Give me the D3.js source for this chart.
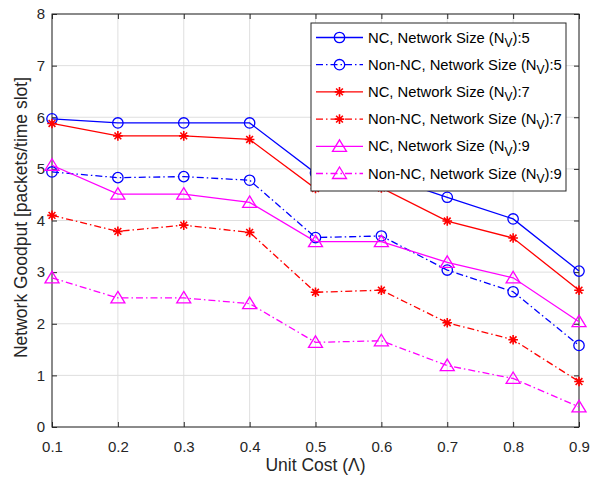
<!DOCTYPE html>
<html><head><meta charset="utf-8">
<script src="https://cdn.jsdelivr.net/npm/d3@7"></script>
<style>body{margin:0;background:#fff}svg{display:block}text{font-family:"Liberation Sans",Arial,sans-serif}</style>
</head><body><svg id="c" width="599" height="477"></svg>
<script>
const unitCost = [0.1,0.2,0.3,0.4,0.5,0.6,0.7,0.8,0.9];
const ncN5    = [5.97,5.89,5.89,5.89,4.92,4.88,4.45,4.03,3.02];
const nonNcN5 = [4.94,4.83,4.85,4.78,3.67,3.70,3.04,2.62,1.58];
const ncN7    = [5.88,5.64,5.64,5.57,4.62,4.63,3.99,3.66,2.65];
const nonNcN7 = [4.10,3.79,3.91,3.77,2.61,2.65,2.02,1.69,0.88];
const ncN9    = [5.07,4.51,4.51,4.35,3.59,3.59,3.19,2.89,2.04];
const nonNcN9 = [2.89,2.50,2.50,2.39,1.64,1.67,1.19,0.94,0.39];
const xTicks = [0.1,0.2,0.3,0.4,0.5,0.6,0.7,0.8,0.9];
const yTicks = [0,1,2,3,4,5,6,7,8];
const seriesNames = ["NC, Network Size (N","Non-NC, Network Size (N","NC, Network Size (N","Non-NC, Network Size (N","NC, Network Size (N","Non-NC, Network Size (N"];
const seriesSuffix = [":5",":5",":7",":7",":9",":9"];

const series = [
  {name:seriesNames[0], suf:seriesSuffix[0], v:ncN5, color:"#0000ff", dash:null, marker:"circle"},
  {name:seriesNames[1], suf:seriesSuffix[1], v:nonNcN5, color:"#0000ff", dash:"7,3,1.5,3", marker:"circle"},
  {name:seriesNames[2], suf:seriesSuffix[2], v:ncN7, color:"#ff0000", dash:null, marker:"star"},
  {name:seriesNames[3], suf:seriesSuffix[3], v:nonNcN7, color:"#ff0000", dash:"7,3,1.5,3", marker:"star"},
  {name:seriesNames[4], suf:seriesSuffix[4], v:ncN9, color:"#ff00ff", dash:null, marker:"tri"},
  {name:seriesNames[5], suf:seriesSuffix[5], v:nonNcN9, color:"#ff00ff", dash:"7,3,1.5,3", marker:"tri"}
];

const svg = d3.select("#c");
const L=52, R=579, T=14, B=427;
const x = d3.scaleLinear().domain([0.1,0.9]).range([L,R]);
const y = d3.scaleLinear().domain([0,8]).range([B,T]);
const axCol="#262626";

// grid
const g = svg.append("g");
g.selectAll(".gx").data(xTicks).join("line").attr("x1",d=>x(d)).attr("x2",d=>x(d)).attr("y1",T).attr("y2",B).attr("stroke","#dfdfdf").attr("stroke-width",1);
g.selectAll(".gy").data(yTicks).join("line").attr("x1",L).attr("x2",R).attr("y1",d=>y(d)).attr("y2",d=>y(d)).attr("stroke","#dfdfdf").attr("stroke-width",1);

// axes
function styleAxis(sel){
  sel.select(".domain").remove();
  sel.selectAll(".tick line").attr("stroke",axCol);
  sel.selectAll(".tick text").attr("fill",axCol).style("font-size","15px");
}
svg.append("g").attr("transform",`translate(0,${B})`).call(d3.axisBottom(x).tickValues(xTicks).tickFormat(d3.format(".1f")).tickSizeInner(-5).tickSizeOuter(0).tickPadding(14)).call(styleAxis);
svg.append("g").attr("transform",`translate(0,${T})`).call(d3.axisTop(x).tickValues(xTicks).tickFormat("").tickSizeInner(-5).tickSizeOuter(0)).call(styleAxis);
svg.append("g").attr("transform",`translate(${L},0)`).call(d3.axisLeft(y).tickValues(yTicks).tickFormat(d3.format("d")).tickSizeInner(-5).tickSizeOuter(0).tickPadding(7)).call(styleAxis);
svg.append("g").attr("transform",`translate(${R},0)`).call(d3.axisRight(y).tickValues(yTicks).tickFormat("").tickSizeInner(-5).tickSizeOuter(0)).call(styleAxis);
svg.append("rect").attr("x",L).attr("y",T).attr("width",R-L).attr("height",B-T).attr("fill","none").attr("stroke",axCol).attr("stroke-width",1);

// markers
function drawMarker(sel, type, color){
  if(type==="circle"){
    sel.append("circle").attr("r",5.2).attr("fill","none").attr("stroke",color).attr("stroke-width",1.3);
  } else if(type==="tri"){
    sel.append("path").attr("d","M0,-6.5L7,5L-7,5Z").attr("fill","none").attr("stroke",color).attr("stroke-width",1.3);
  } else {
    const r=4.8, s=r*0.707;
    sel.append("path").attr("d",`M${-r},0L${r},0M0,${-r}L0,${r}M${-s},${-s}L${s},${s}M${-s},${s}L${s},${-s}`).attr("stroke",color).attr("stroke-width",1.6);
  }
}

const line = d3.line().x((d,i)=>x(unitCost[i])).y(d=>y(d));
series.forEach(s=>{
  svg.append("path").datum(s.v).attr("d",line).attr("fill","none").attr("stroke",s.color).attr("stroke-width",1.3).attr("stroke-dasharray",s.dash);
  s.v.forEach((v,i)=>{
    const m = svg.append("g").attr("transform",`translate(${x(unitCost[i])},${y(v)})`);
    drawMarker(m,s.marker,s.color);
  });
});

// legend
const lg = svg.append("g");
lg.append("rect").attr("x",311).attr("y",23).attr("width",255).attr("height",168).attr("fill","#fff").attr("stroke",axCol).attr("stroke-width",1);
series.forEach((s,i)=>{
  const cy = 37.5 + i*27.2;
  lg.append("line").attr("x1",316).attr("x2",363).attr("y1",cy).attr("y2",cy).attr("stroke",s.color).attr("stroke-width",1.3).attr("stroke-dasharray",s.dash);
  const m = lg.append("g").attr("transform",`translate(339.5,${cy})`);
  drawMarker(m,s.marker,s.color);
  const t = lg.append("text").attr("x",368).attr("y",cy+5).attr("fill","#000").style("font-size","14.8px");
  t.append("tspan").text(s.name);
  t.append("tspan").attr("dy",4.5).style("font-size","12px").text("V");
  t.append("tspan").attr("dy",-4.5).text(")"+s.suf);
});

// axis labels
svg.append("text").attr("x",(L+R)/2).attr("y",471).attr("text-anchor","middle").attr("fill",axCol).style("font-size","17.5px").text("Unit Cost (Λ)");
svg.append("text").attr("transform",`translate(27,217.5) rotate(-90)`).attr("text-anchor","middle").attr("fill",axCol).style("font-size","17.5px").text("Network Goodput [packets/time slot]");
</script></body></html>
